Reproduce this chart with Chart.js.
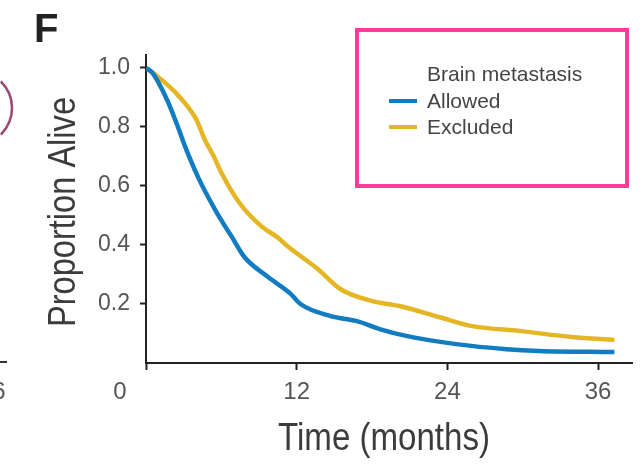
<!DOCTYPE html>
<html>
<head>
<meta charset="utf-8">
<script src="https://cdn.jsdelivr.net/npm/chart.js@4.4.1/dist/chart.umd.min.js"></script>
<style>
  body { margin: 0; background: #fff; }
  canvas { display: block; }
</style>
</head>
<body>
<canvas id="grafica" width="641" height="468"></canvas>
<script>
// survival curves (months, proportion alive)
var allowedMonths = [0, 0.5, 1.7, 2.5, 3.1, 4.2, 5.5, 6.2, 6.8, 7.8, 9.7, 11.5, 12.3, 14.7, 15.9, 16.8, 18.6, 20.8, 24.7, 28.7, 31.3, 37.3];
var allowedAlive  = [1.0, 0.984, 0.89, 0.805, 0.735, 0.625, 0.52, 0.47, 0.43, 0.361, 0.292, 0.235, 0.20, 0.159, 0.149, 0.142, 0.115, 0.091, 0.064, 0.047, 0.041, 0.037];

var excludedMonths = [0, 0.9, 2.5, 4.0, 4.7, 5.4, 6.0, 7.4, 9.2, 10.5, 11.3, 13.7, 15.5, 18.1, 19.4, 20.2, 23.4, 26.0, 29.9, 33.9, 37.3];
var excludedAlive  = [1.0, 0.972, 0.91, 0.826, 0.755, 0.70, 0.645, 0.545, 0.463, 0.425, 0.395, 0.318, 0.25, 0.209, 0.199, 0.193, 0.155, 0.125, 0.108, 0.088, 0.078];

var xTicks = [0, 12, 24, 36];
var yTicks = [0.2, 0.4, 0.6, 0.8, 1.0];
var labels = ["Allowed", "Excluded"];
var legendTitle = "Brain metastasis";
var xTitle = "Time (months)";
var yTitle = "Proportion Alive";

function puntos(xs, ys) {
  var out = [];
  for (var i = 0; i < xs.length; i++) out.push({x: xs[i], y: ys[i]});
  return out;
}

var sans = "'Liberation Sans', Arial, sans-serif";

// no narrow font installed, so squeeze the text horizontally to the width in the figure
function textoEstrecho(ctx, texto, ancho) {
  var w = ctx.measureText(texto).width;
  ctx.scale(ancho / w, 1);
  ctx.fillText(texto, 0, 0);
}

var extras = {
  id: 'extras',
  afterDraw: function(chart) {
    var ctx = chart.ctx;
    var area = chart.chartArea;
    ctx.save();
    // panel letter
    ctx.fillStyle = '#222';
    ctx.font = 'bold 40px ' + sans;
    ctx.textBaseline = 'alphabetic';
    ctx.textAlign = 'left';
    ctx.fillText('F', 34, 42);

    // axis titles
    ctx.fillStyle = '#3c3c3c';
    ctx.font = '39px ' + sans;
    ctx.textAlign = 'center';
    ctx.save();
    ctx.translate((area.left + area.right) / 2 - 5, 450);
    textoEstrecho(ctx, xTitle, 212);
    ctx.restore();
    ctx.save();
    ctx.translate(75, (area.top + area.bottom) / 2 + 3);
    ctx.rotate(-Math.PI / 2);
    textoEstrecho(ctx, yTitle, 230);
    ctx.restore();

    // leftover bits of the neighbouring panel
    ctx.strokeStyle = '#9a4a72';
    ctx.lineWidth = 2.5;
    ctx.beginPath();
    ctx.arc(-25, 108, 37, -0.8, 0.8);
    ctx.stroke();
    ctx.strokeStyle = '#333';
    ctx.lineWidth = 2;
    ctx.beginPath();
    ctx.moveTo(0, 362); ctx.lineTo(7, 362);
    ctx.stroke();
    ctx.fillStyle = '#555';
    ctx.font = '24px ' + sans;
    ctx.textBaseline = 'middle';
    ctx.textAlign = 'center';
    ctx.fillText('6', -1, 392);

    // the "0" label sits left of the y axis
    ctx.fillText('0', 120, 392);

    // legend box
    ctx.strokeStyle = '#fc3a9a';
    ctx.lineWidth = 4;
    ctx.strokeRect(357, 30, 270, 156);
    ctx.fillStyle = '#444';
    ctx.font = '21px ' + sans;
    ctx.textAlign = 'left';
    ctx.fillText(legendTitle, 427, 75);
    var ds = chart.data.datasets;
    for (var i = 0; i < ds.length; i++) {
      var y = 101 + i * 26;
      ctx.strokeStyle = ds[i].borderColor;
      ctx.lineWidth = 4;
      ctx.beginPath();
      ctx.moveTo(389, y); ctx.lineTo(417, y);
      ctx.stroke();
      ctx.fillStyle = '#444';
      ctx.fillText(ds[i].label, 427, y + 1);
    }
    ctx.restore();
  }
};

var ctx = document.getElementById('grafica').getContext('2d');
var chart = new Chart(ctx, {
  type: 'line',
  data: {
    datasets: [
      {
        label: labels[0],
        data: puntos(allowedMonths, allowedAlive),
        borderColor: '#117dc0',
        borderWidth: 4.5,
        pointRadius: 0,
        cubicInterpolationMode: 'monotone'
      },
      {
        label: labels[1],
        data: puntos(excludedMonths, excludedAlive),
        borderColor: '#e4b624',
        borderWidth: 4.5,
        pointRadius: 0,
        cubicInterpolationMode: 'monotone'
      }
    ]
  },
  options: {
    responsive: false,
    animation: false,
    layout: { padding: { top: 55, right: 9, left: 0, bottom: 0 } },
    plugins: { legend: { display: false }, tooltip: { enabled: false } },
    scales: {
      x: {
        type: 'linear',
        min: 0,
        max: 38.7,
        afterBuildTicks: function(scale) {
          scale.ticks = xTicks.map(function(v) { return {value: v}; });
        },
        afterFit: function(scale) { scale.height = 105; },
        border: { display: true, color: '#222', width: 2 },
        grid: { drawOnChartArea: false, drawTicks: true, tickLength: 7, tickColor: '#222', tickWidth: 2 },
        ticks: {
          color: '#555',
          font: { family: sans, size: 24 },
          padding: 8,
          maxRotation: 0,
          callback: function(v) { return v === 0 ? '' : v; }
        }
      },
      y: {
        min: 0,
        max: 1.044,
        afterBuildTicks: function(scale) {
          scale.ticks = yTicks.map(function(v) { return {value: v}; });
        },
        afterFit: function(scale) { scale.width = 146; },
        border: { display: true, color: '#222', width: 2 },
        grid: { drawOnChartArea: false, drawTicks: true, tickLength: 6, tickColor: '#222', tickWidth: 2 },
        ticks: {
          color: '#555',
          font: { family: sans, size: 23 },
          padding: 10,
          callback: function(v) { return v.toFixed(1); }
        }
      }
    }
  },
  plugins: [extras]
});
</script>
</body>
</html>
